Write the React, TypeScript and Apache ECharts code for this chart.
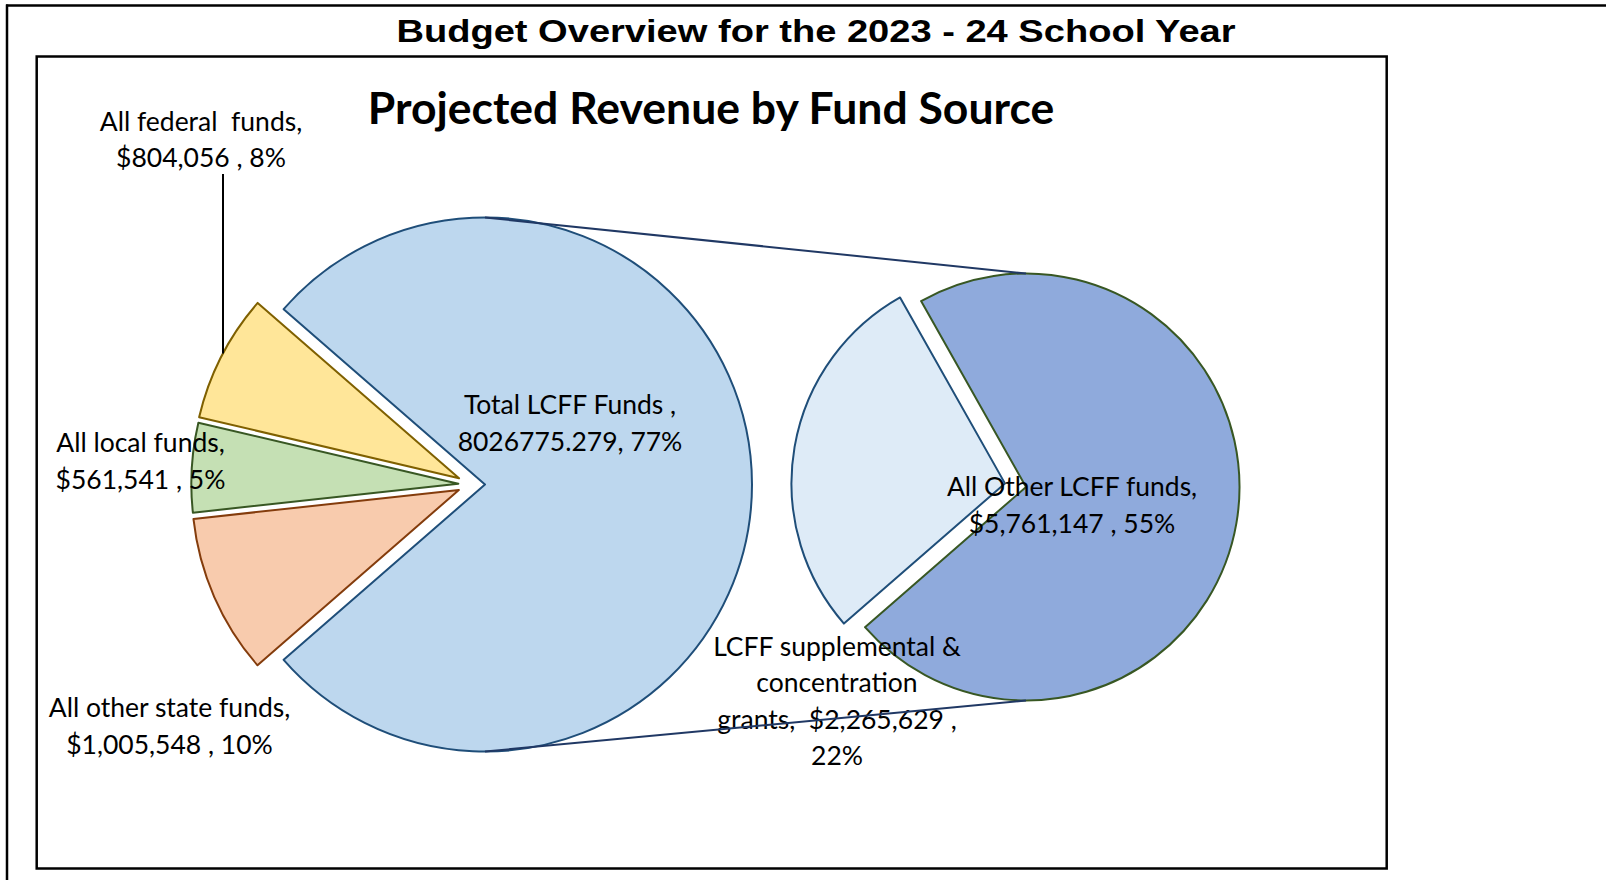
import React, { useEffect, useRef } from "react";
import * as echarts from "echarts";

// ---------------- data ----------------
const TITLE = "Budget Overview for the 2023 - 24 School Year";
const SUBTITLE = "Projected Revenue by Fund Source";

// main pie, listed clockwise starting with the LCFF slice
const MAIN_NAMES = ["Total LCFF Funds", "All other state funds", "All local funds", "All federal  funds"];
const MAIN_VALUES = [8026775.279, 1005548, 561541, 804056];

// secondary pie (breakdown of Total LCFF Funds), clockwise
const SPLIT_NAMES = ["LCFF supplemental &\nconcentration\ngrants", "All Other LCFF funds"];
const SPLIT_VALUES = [2265629, 5761147];

// ---------------- styles / layout ----------------
const MAIN_FILLS = ["#BDD7EE", "#F8CBAD", "#C5E0B4", "#FFE699"];
const MAIN_BORDERS = ["#1F4E79", "#843C0C", "#385723", "#7F6000"];
const SPLIT_FILLS = ["#DEEBF7", "#8FAADC"];
const SPLIT_BORDERS = ["#1F4E79", "#385723"];
const MAIN_LABEL_POS = [[570, 422.5], [169.5, 725.5], [140.5, 460.5], [201, 139]];
const SPLIT_LABEL_POS = [[837, 700.5], [1072, 504.5]];

const C1 = [485, 484.5];
const R1 = 267;
const C2 = [1026, 487];
const R2 = 213.5;
const EXPLODE = 0.1; // fraction of radius

const LABEL_FONT = "Lato";
const LABEL_SIZE = 26.5;
const LABEL_LH = 36.5;

// ---------------- helpers ----------------
const sum = (a: number[]) => a.reduce((s, v) => s + v, 0);
const GRAND = sum(MAIN_VALUES);
const SPLIT_TOTAL = sum(SPLIT_VALUES);
const money = (v: number) => "$" + Math.round(v).toLocaleString("en-US");
const pct = (v: number) => Math.round((v / GRAND) * 100) + "%";
const norm = (a: number) => ((a % 360) + 360) % 360;
const vec = (deg: number, mag: number) => {
  const r = (deg * Math.PI) / 180;
  return [mag * Math.cos(r), -mag * Math.sin(r)];
};

const mainSpans = MAIN_VALUES.map((v) => (v / GRAND) * 360);
const START1 = mainSpans[0] / 2;
const mainMid = (i: number) => norm(START1 - sum(mainSpans.slice(0, i)) - mainSpans[i] / 2);

const splitSpans = SPLIT_VALUES.map((v) => (v / SPLIT_TOTAL) * 360);
const START2 = norm(-START1);
const splitMid = (i: number) => norm(START2 - sum(splitSpans.slice(0, i)) - splitSpans[i] / 2);

const mainLabel = (i: number) => {
  const v = MAIN_VALUES[i];
  const n = MAIN_NAMES[i];
  if (i === 0) return `${n} ,\n${v}, ${pct(v)}`;
  return `${n},\n${money(v)} , ${pct(v)}`;
};
const splitLabel = (i: number) => {
  const v = SPLIT_VALUES[i];
  const n = SPLIT_NAMES[i];
  if (i === 0) return `${n},  ${money(v)} ,\n${pct(v)}`;
  return `${n},\n${money(v)} , ${pct(v)}`;
};

function sliceSeries(
  id: string,
  names: string[],
  values: number[],
  idx: number,
  center: number[],
  radius: number,
  startAngle: number,
  offset: number[],
  fill: string,
  border: string,
  labelText: string,
  labelPos: number[]
) {
  return {
    type: "pie",
    id,
    silent: true,
    clockwise: true,
    startAngle,
    center: [center[0] + offset[0], center[1] + offset[1]],
    radius,
    avoidLabelOverlap: false,
    emphasis: { disabled: true },
    data: values.map((v, i) =>
      i === idx
        ? {
            name: names[i],
            value: v,
            itemStyle: { color: fill, borderColor: border, borderWidth: 2 },
            label: { show: true },
          }
        : {
            name: names[i],
            value: v,
            itemStyle: { color: "rgba(0,0,0,0)", borderWidth: 0 },
            label: { show: false },
          }
    ),
    label: {
      show: false,
      position: "inside",
      formatter: () => labelText,
      fontFamily: LABEL_FONT,
      fontSize: LABEL_SIZE,
      color: "#000",
      lineHeight: LABEL_LH,
      align: "center",
    },
    labelLine: { show: false },
    labelLayout: { x: labelPos[0], y: labelPos[1], align: "center", verticalAlign: "middle" },
  };
}

export default function App() {
  const ref = useRef<HTMLDivElement>(null);

  useEffect(() => {
    document.body.style.margin = "0";
    if (!ref.current) return;
    const chart = echarts.init(ref.current, null, { renderer: "svg" });

    const series: any[] = [];
    SPLIT_VALUES.forEach((_, i) => {
      const off = i === 0 ? vec(splitMid(i), EXPLODE * R2) : [0, 0];
      series.push(
        sliceSeries("split" + i, SPLIT_NAMES, SPLIT_VALUES, i, C2, R2, START2, off, SPLIT_FILLS[i], SPLIT_BORDERS[i], splitLabel(i), SPLIT_LABEL_POS[i])
      );
    });
    MAIN_VALUES.forEach((_, i) => {
      let off = [0, 0];
      if (i > 0) {
        const dir = 180 + (mainMid(i) - 180) * 0.5;
        off = vec(dir, EXPLODE * R1);
      }
      series.push(
        sliceSeries("main" + i, MAIN_NAMES, MAIN_VALUES, i, C1, R1, START1, off, MAIN_FILLS[i], MAIN_BORDERS[i], mainLabel(i), MAIN_LABEL_POS[i])
      );
    });

    // federal leader line: from label bottom down to the exploded slice arc
    const fedMid = 180 + (mainMid(3) - 180) * 0.5;
    const fedOff = vec(fedMid, EXPLODE * R1);
    const fedCx = C1[0] + fedOff[0];
    const fedCy = C1[1] + fedOff[1];
    const leaderX = 223;
    const leaderEndY = fedCy - Math.sqrt(R1 * R1 - (leaderX - fedCx) * (leaderX - fedCx));

    const option: any = {
      animation: false,
      backgroundColor: "#fff",
      graphic: [
        { type: "line", z: 10, shape: { x1: 6, y1: 5.5, x2: 1606, y2: 5.5 }, style: { stroke: "#000", lineWidth: 2.5 } },
        { type: "line", z: 10, shape: { x1: 7, y1: 4.5, x2: 7, y2: 880 }, style: { stroke: "#000", lineWidth: 2.5 } },
        {
          type: "rect",
          z: 10,
          shape: { x: 36.7, y: 56.5, width: 1350, height: 812 },
          style: { fill: "none", stroke: "#000", lineWidth: 2.5 },
        },
        {
          type: "text",
          z: 10,
          x: 816,
          y: 30.5,
          scaleX: 1.19,
          style: {
            text: TITLE,
            fontFamily: "Liberation Sans",
            fontWeight: "bold",
            fontSize: 32,
            fill: "#000",
            align: "center",
            verticalAlign: "middle",
          },
        },
        {
          type: "text",
          z: 10,
          x: 711,
          y: 106,
          style: {
            text: SUBTITLE,
            fontFamily: "Lato",
            fontWeight: "bold",
            fontSize: 44.5,
            fill: "#000",
            align: "center",
            verticalAlign: "middle",
          },
        },
        {
          type: "line",
          z: 10,
          shape: { x1: C1[0], y1: C1[1] - R1, x2: C2[0], y2: C2[1] - R2 },
          style: { stroke: "#203864", lineWidth: 2 },
        },
        {
          type: "line",
          z: 10,
          shape: { x1: C1[0], y1: C1[1] + R1, x2: C2[0], y2: C2[1] + R2 },
          style: { stroke: "#203864", lineWidth: 2 },
        },
        {
          type: "line",
          z: 10,
          shape: { x1: leaderX, y1: 174, x2: leaderX, y2: leaderEndY },
          style: { stroke: "#000", lineWidth: 2 },
        },
      ],
      series,
    };

    chart.setOption(option);
    return () => chart.dispose();
  }, []);

  return <div ref={ref} style={{ width: 1606, height: 880 }} />;
}
